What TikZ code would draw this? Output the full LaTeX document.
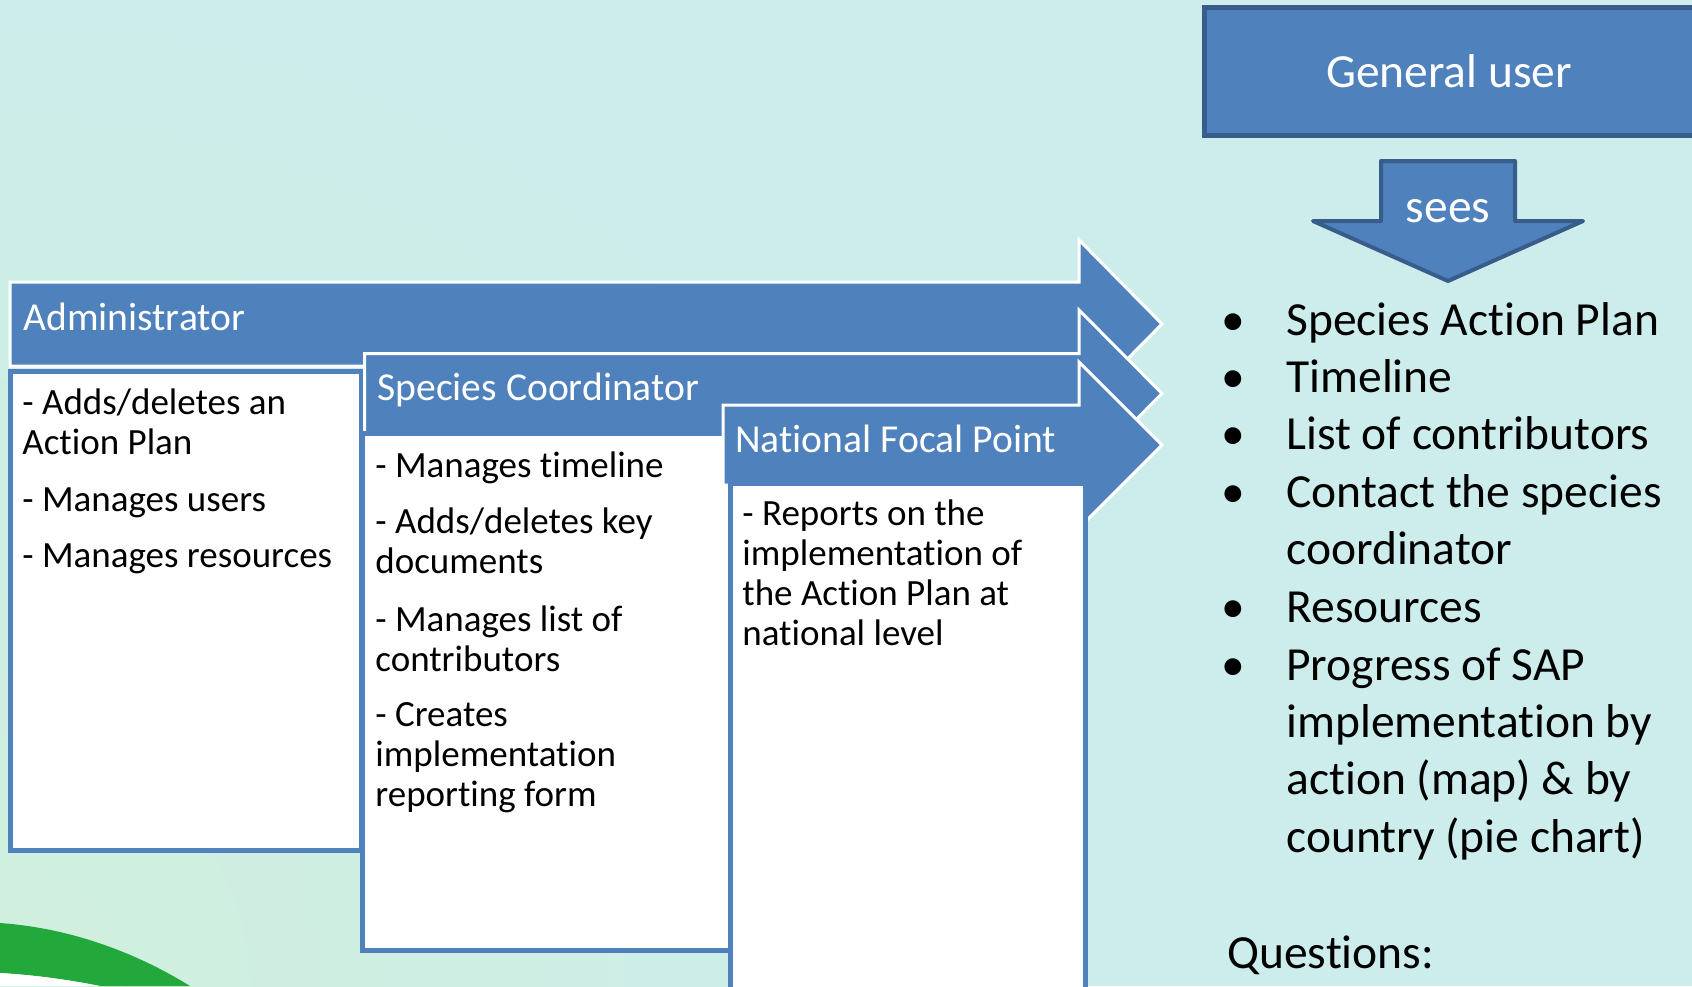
\documentclass[tikz,border=0pt]{standalone}
\usepackage{fontspec}
\setmainfont{Carlito}[Ligatures=NoCommon]
\usepackage{xcolor}
\usepackage{tikz}
\usetikzlibrary{positioning}
\definecolor{slidebg}{RGB}{204,237,235}
\definecolor{slidemint}{RGB}{208,239,221}
\definecolor{roleblue}{RGB}{79,129,189}
\definecolor{roleedge}{RGB}{56,93,138}
\definecolor{swoosh}{RGB}{35,168,60}
\tikzset{rolehead/.style={fill=roleblue, draw=white, line width=1.5pt}}
\tikzset{rolebox/.style={fill=white, draw=roleblue, line width=2.5pt}}
\tikzset{headtext/.style={text=white, inner sep=0pt, anchor=base west, font=\fontsize{19.8pt}{22pt}\selectfont}}
\tikzset{bodytext/.style={text=black, inner sep=0pt, anchor=base west, font=\fontsize{18.5pt}{20pt}\selectfont}}
\tikzset{listtext/.style={text=black, inner sep=0pt, anchor=base west, font=\fontsize{23.75pt}{28pt}\selectfont}}
\tikzset{bulletmark/.style={text=black, inner sep=0pt, anchor=base, font=\fontsize{23.75pt}{28pt}\selectfont}}
\tikzset{userbox/.style={fill=roleblue, draw=roleedge, line width=2.5pt, text=white,
  minimum width=245pt, minimum height=64pt, text height=16pt, text depth=0pt,
  font=\fontsize{23.75pt}{28pt}\selectfont}}
\tikzset{seesarrow/.style={fill=roleblue, draw=roleedge, line width=2pt, line join=round}}

\begin{document}
\begin{tikzpicture}[x=0.5pt, y=-0.5pt]
  \useasboundingbox (0,0) rectangle (1692,986);
  % slide background, greener towards the lower left corner
  \fill[slidebg] (0,0) rectangle (1692,986);
  \begin{scope}
    \clip (0,0) rectangle (1692,986);
    \shade[inner color=slidemint, outer color=slidebg] (0,986) circle (1000);
  \end{scope}
  \fill[swoosh] (0,923) .. controls (70,928) and (135,952) .. (190,986)
    -- (100,986) .. controls (70,980) and (35,975) .. (0,973) -- cycle;
  \fill[white] (0,973) .. controls (35,975) and (70,980) .. (100,986) -- (0,986) -- cycle;

  % Administrator: arrow header, then its white box on top
  \filldraw[rolehead] (10,282) -- (1079,282) -- (1079,240) -- (1162,324)
    -- (1079,408) -- (1079,366) -- (10,366) -- cycle;
  \filldraw[rolebox] (10.5,371.5) rectangle (361,850);
  \node[headtext] (admin) at (23,330) {Administrator};
  \node[bodytext] (adm1) at (22,414) {- Adds/deletes an};
  \node (adm2) [below=20pt of adm1.base west, bodytext] {Action Plan};
  \node (adm3) [below=28.5pt of adm2.base west, bodytext] {- Manages users};
  \node (adm4) [below=28pt of adm3.base west, bodytext] {- Manages resources};

  % Species Coordinator
  \filldraw[rolehead] (364.5,353.5) -- (1079,353.5) -- (1079,310) -- (1162,393.5)
    -- (1079,477) -- (1079,434) -- (364.5,434) -- cycle;
  \filldraw[rolebox] (362,433) rectangle (730,950);
  \node[headtext] (coord) at (377,400) {Species Coordinator};
  \node[bodytext] (sc1) at (375,477) {- Manages timeline};
  \node (sc2) [below=28pt of sc1.base west, bodytext] {- Adds/deletes key};
  \node (sc3) [below=20pt of sc2.base west, bodytext] {documents};
  \node (sc4) [below=29pt of sc3.base west, bodytext] {- Manages list of};
  \node (sc5) [below=20pt of sc4.base west, bodytext] {contributors};
  \node (sc6) [below=27.5pt of sc5.base west, bodytext] {- Creates};
  \node (sc7) [below=20pt of sc6.base west, bodytext] {implementation};
  \node (sc8) [below=20pt of sc7.base west, bodytext] {reporting form};

  % National Focal Point
  \filldraw[rolehead] (723,405) -- (1079,405) -- (1079,362) -- (1162,445)
    -- (1079,528) -- (1079,485) -- (723,485) -- cycle;
  \filldraw[rolebox] (730,483) rectangle (1085.5,1000);
  \node[headtext] (focal) at (735,452) {National Focal Point};
  \node[bodytext] (nfp1) at (742,525) {- Reports on the};
  \node (nfp2) [below=20pt of nfp1.base west, bodytext] {implementation of};
  \node (nfp3) [below=20pt of nfp2.base west, bodytext] {the Action Plan at};
  \node (nfp4) [below=20pt of nfp3.base west, bodytext] {national level};

  % General user and what it sees
  \node[userbox] (user) at (1449,71) {General user};
  \filldraw[seesarrow] (1381,161) -- (1515,161) -- (1515,221) -- (1583,221)
    -- (1448,281) -- (1313,221) -- (1381,221) -- cycle;
  \node[listtext, anchor=base, text=white] (sees) at (1448,222) {sees};

  \node[bulletmark] (b1) at (1233,335) {•};
  \node[listtext] (li1) at (1286,335) {Species Action Plan};
  \node[bulletmark] (b2) at (1233,392) {•};
  \node[listtext] (li2) at (1286,392) {Timeline};
  \node[bulletmark] (b3) at (1233,449) {•};
  \node[listtext] (li3) at (1286,449) {List of contributors};
  \node[bulletmark] (b4) at (1233,507) {•};
  \node[listtext] (li4) at (1286,507) {Contact the species};
  \node (li5) [below=28.7pt of li4.base west, listtext] {coordinator};
  \node[bulletmark] (b5) at (1233,622) {•};
  \node[listtext] (li6) at (1286,622) {Resources};
  \node[bulletmark] (b6) at (1233,680) {•};
  \node[listtext] (li7) at (1286,680) {Progress of SAP};
  \node (li8) [below=28.7pt of li7.base west, listtext] {implementation by};
  \node (li9) [below=28.7pt of li8.base west, listtext] {action (map) \& by};
  \node (li10) [below=28.7pt of li9.base west, listtext] {country (pie chart)};
  \node[listtext] (questions) at (1227,968) {Questions:};
\end{tikzpicture}
\end{document}
